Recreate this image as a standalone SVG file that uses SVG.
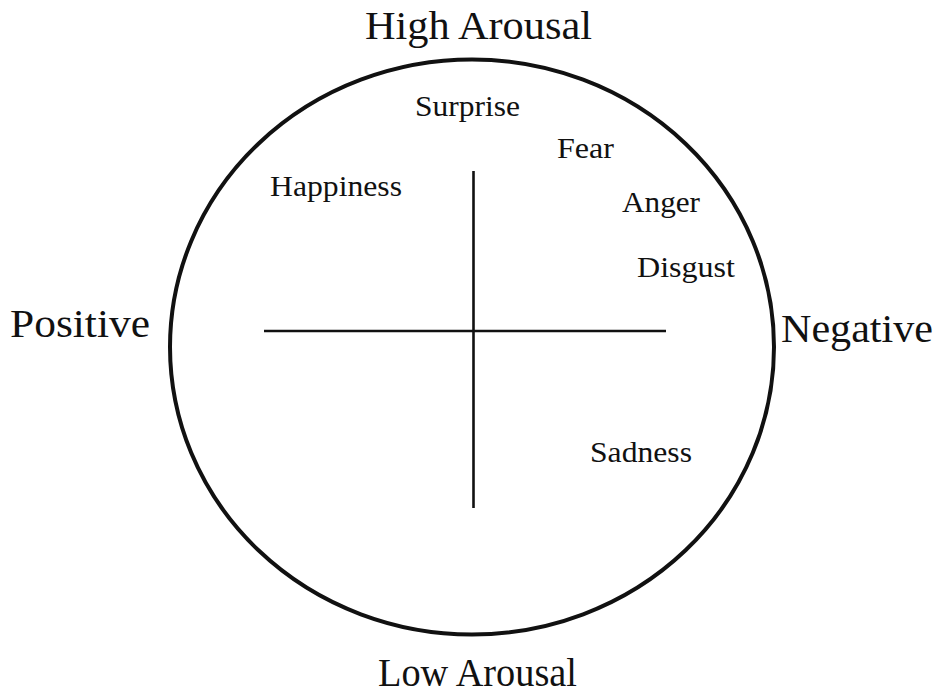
<svg xmlns="http://www.w3.org/2000/svg" width="940" height="695" viewBox="0 0 940 695">
<style>
.big{font-family:"Liberation Serif","Times New Roman",serif;font-size:41px;fill:#111}
.lbl{font-family:"Liberation Serif","Times New Roman",serif;font-size:30px;fill:#111}
.ln{stroke:#111;stroke-width:2.6;fill:none}
</style>
<rect width="940" height="695" fill="#fff"/>
<g id="circle"><ellipse cx="472" cy="347" rx="302" ry="287.5" fill="none" stroke="#111" stroke-width="4"/></g>
<g id="connectors">
<line class="ln" x1="264" y1="331" x2="666" y2="331"/>
<line class="ln" x1="473.5" y1="171" x2="473.5" y2="508"/>
</g>
<g id="high-arousal"><text class="big" x="365" y="39" textLength="227" lengthAdjust="spacingAndGlyphs">High Arousal</text></g>
<g id="low-arousal"><text class="big" x="378" y="686" textLength="199" lengthAdjust="spacingAndGlyphs">Low Arousal</text></g>
<g id="positive"><text class="big" x="10" y="337" textLength="140" lengthAdjust="spacingAndGlyphs">Positive</text></g>
<g id="negative"><text class="big" x="781" y="342" textLength="152" lengthAdjust="spacingAndGlyphs">Negative</text></g>
<g id="surprise"><text class="lbl" x="415" y="116" textLength="105" lengthAdjust="spacingAndGlyphs">Surprise</text></g>
<g id="fear"><text class="lbl" x="557" y="158" textLength="57" lengthAdjust="spacingAndGlyphs">Fear</text></g>
<g id="happiness"><text class="lbl" x="270" y="196" textLength="132" lengthAdjust="spacingAndGlyphs">Happiness</text></g>
<g id="anger"><text class="lbl" x="622" y="212" textLength="78" lengthAdjust="spacingAndGlyphs">Anger</text></g>
<g id="disgust"><text class="lbl" x="637" y="277" textLength="98" lengthAdjust="spacingAndGlyphs">Disgust</text></g>
<g id="sadness"><text class="lbl" x="590" y="462" textLength="102" lengthAdjust="spacingAndGlyphs">Sadness</text></g>
</svg>
